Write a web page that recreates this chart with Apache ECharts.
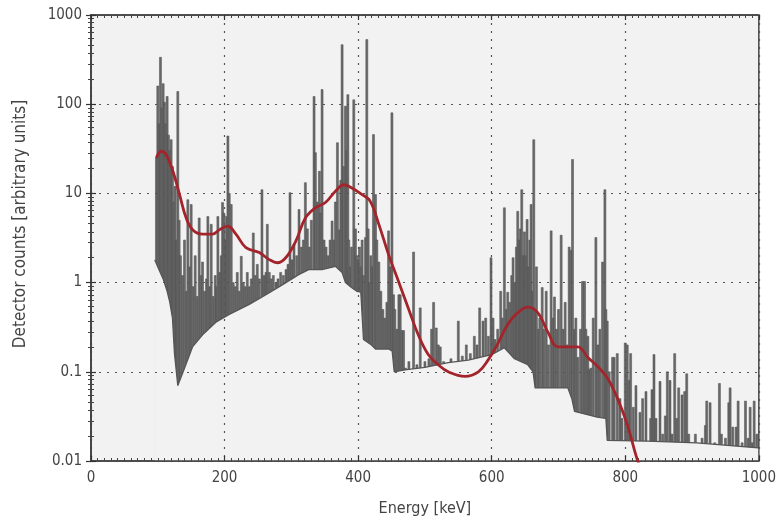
<!DOCTYPE html>
<html>
<head>
<meta charset="utf-8">
<script src="https://cdn.jsdelivr.net/npm/echarts@6/dist/echarts.min.js"></script>
<style>
html, body { margin: 0; padding: 0; background: #fff; }
#main { width: 779px; height: 523px; }
</style>
</head>
<body>
<div id="main"></div>
<script>
// gamma lines [energy keV, counts]
var spikes = [
    [98,25],[100,160],[102,60],[104,336],[106,90],[108,170],[110,105],[112,60],[114,122],[116,45],
    [118,30],[120,40],[122,20],[124,8],[126,12],[128,3],[130,139],[132,5],[134,2],
    [137,1.2],[140,3],[143,0.8],[145,8.5],[148,1.5],[150,7.5],[153,0.9],[156,2],[159,0.7],[162,5.3],
    [165,1.2],[167,1.7],[170,0.8],[173,1.1],[175,5.5],[178,0.9],[180,4.5],[183,0.7],[186,1.2],[188,0.9],
    [190,5.5],[193,1.3],[195,2],[197,7.9],[199,6],[201,3],[203,5.5],[205,44],[207,10],[210,7.5],
    [213,1],[216,0.9],[219,1.3],[222,0.8],[225,1.97],[228,1],[231,0.9],[234,1.3],[237,0.9],
    [240,1.1],[243,3.6],[246,1.2],[249,1.6],[252,1.1],[256,11],[259,1.2],[262,1.3],[264,4.5],[267,1.3],
    [270,1.1],[273,1.2],[277,1],[280,1.1],[284,1.3],[288,1.2],[292,1.4],[295,1.6],[298,10.2],[301,1.8],
    [304,2.7],[308,2],[311.5,6.6],[315,2.5],[318,3],[321,13.2],[324,4],[327,2.5],[330,5],[334,122],
    [336,28.6],[339,8],[342,17.7],[344,6],[346,146],[349,3],[352,2.5],[355,2],[358,3],[361,4.9],
    [364,3],[366,8],[369,37],[372,3.9],[374,14],[376,465],[378,20],[381,95],[383,30],[384.6,128],
    [386,3],[388,1.5],[390,2.5],[393.5,112],[396,4],[398,2],[400,1.8],[402,2.5],[404,1.5],[406,3],
    [408,1.2],[411,3.2],[413,530],[415,4],[417,1],[419,2],[421,1.5],[423,45.6],[426,9.7],[428,3],
    [431,1.7],[434,0.8],[437,0.5],[440,0.4],[443,0.6],[445.6,3.8],[448,1.5],[450.6,80],[453,0.73],[455,0.5],
    [458,0.3],[461,0.73],[463,0.73],[466,0.29],[468,0.29],[471,0.11],[476,0.13],[483,2.2],[488,0.12],[493,0.52],
    [500,0.13],[506,0.14],[510,0.3],[513,0.6],[517,0.31],[520,0.2],[523,0.19],[528,0.13],
    [539,0.14],[550,0.37],[556,0.15],[562,0.2],[568,0.16],[574,0.25],[578,0.2],[582,0.52],[587,0.37],[591,0.4],
    [595,0.25],[599,1.9],[602,0.4],[605,0.23],[609,0.3],[613.5,0.8],[616,0.4],[619,6.9],[622,0.5],[624,0.78],
    [627,0.6],[630,1.2],[632,1.9],[635,1],[637,2.5],[639,6.3],[641,3],[643,4],[645,11],[647,2],
    [649,3.7],[651,2],[653,5.1],[655,1.5],[657,3],[659,7.5],[661,0.8],[663,40],[665,0.5],[667,1.5],
    [670,0.3],[672,0.4],[675.6,0.88],[678,0.3],[681.6,0.8],[685,0.2],
    [689,3.8],[692,0.4],[694,0.69],[697,0.3],[700,0.5],[704,3.4],[707,0.3],[710,0.6],[713,0.2],[716,2.5],
    [719,2.3],[721,24],[724,0.3],[726,0.4],[729,0.145],[733,0.3],[736,1.03],[739,1.03],[741,0.3],[744,0.25],
    [746,0.106],[748.6,0.11],[752,0.4],[756,3.2],[759,0.2],[762,0.3],[766,1.7],[769.5,11],[771,0.5],[773,0.37],
    [776,0.1],[781,0.145],[783.4,0.145],[788,0.16],[792,0.05],[795,0.03],[800,0.21],[803,0.2],[806,0.08],[808,0.16],
    [812,0.04],[816,0.07],[822,0.035],[826,0.05],[831,0.06],
    [838,0.03],[840,0.063],[843,0.156],[846,0.03],[852,0.078],[856,0.02],[860,0.032],[863,0.1],[867,0.08],[870,0.02],
    [874,0.16],[877,0.03],[880,0.066],[885,0.055],[889,0.06],[892,0.095],[895,0.02],[905,0.02],[915,0.018],[920,0.025],
    [922,0.047],[927,0.045],[934,0.016],[941,0.074],[944,0.02],[950,0.018],[955,0.045],[957,0.066],[961,0.024],[966,0.024],
    [969,0.047],[975,0.016],[980,0.047],[984,0.018],[987,0.04],[990,0.016],[993,0.047],[997,0.02]
];

// lower envelope (continuum)
var continuum = [
    [95.5,1.8],[100,1.5],[108,1.1],[114,0.8],[118,0.6],[122,0.4],[125,0.16],[130,0.07],[138,0.1],[152,0.19],
    [167,0.26],[187,0.36],[207,0.44],[237,0.57],[262,0.73],[287,0.95],[311,1.23],[326,1.4],[346,1.4],[366,1.52],
    [376,1.3],[381,1.0],[390,0.88],[398,0.8],[404,0.78],[408,0.23],[420,0.2],[426,0.18],[446,0.18],[451,0.17],
    [454,0.1],[470,0.105],[500,0.112],[535,0.127],[565,0.135],[600,0.156],[619,0.186],[634,0.14],[654,0.12],[662,0.1],
    [665,0.066],[714,0.066],[720,0.05],[724,0.036],[758,0.031],[771,0.03],[773,0.017],[833,0.0167],[907,0.016],[999,0.014]
];

// smoothed (resolution-folded) spectrum
var smoothed = [
    [97.8,25],[105,29.7],[112.7,27],[122.7,17.7],[132.6,9.7],[142.5,5.3],[152.5,3.9],[167,3.5],[182,3.5],[192,3.9],
    [204.6,4.3],[217,3.5],[232,2.47],[252,2.17],[267,1.81],[279,1.67],[291.6,1.9],[306.5,2.9],[321,5.3],[336,6.9],
    [351,7.9],[366,10.6],[378.6,12.5],[386,12],[406,9.7],[418,8.2],[431,4.5],[445.6,2.06],[460.5,1.03],[475,0.52],
    [490,0.26],[505,0.156],[520,0.12],[535,0.1],[560,0.089],[580,0.1],[595,0.137],[609.5,0.21],[624,0.34],[639,0.46],
    [654,0.53],[669,0.46],[684,0.28],[699,0.19],[714,0.19],[729,0.19],[744,0.145],[758.5,0.115],[773,0.086],[788,0.051],
    [803,0.0256],[815.7,0.0118],[822,0.0085]
];

var yTickLabels = {1000: '1000', 100: '100', 10: '10', 1: '1', 0.1: '0.1', 0.01: '0.01'};

var chart = echarts.init(document.getElementById('main'));
var font = 'DejaVu Sans Condensed';
var plotBg = '#f2f2f2';
var gridDots = { show: true, lineStyle: { color: '#555', type: [2, 6], width: 1.2 } };

// primary axes carry labels and ticks, secondary (top/right) draw the dotted grid above the spectrum
function tickAxis(extra) {
    var base = {
        z: 3,
        axisLine: { show: true, lineStyle: { color: '#444', width: 1.5 } },
        axisTick: { show: true, inside: true, length: 5, lineStyle: { color: '#333', width: 1.2 } },
        minorTick: { show: true, splitNumber: 10, length: 3, lineStyle: { color: '#444', width: 1 } },
        axisLabel: { show: false },
        splitLine: { show: false }
    };
    for (var k in extra) base[k] = extra[k];
    return base;
}

var xMinor = { show: true, splitNumber: 20, length: 3, lineStyle: { color: '#444', width: 1 } };

var option = {
    backgroundColor: '#fff',
    animation: false,
    grid: {
        left: 91, right: 17, top: 15, bottom: 62,
        show: true,
        backgroundColor: plotBg,
        borderColor: '#444',
        borderWidth: 1.5
    },
    xAxis: [tickAxis({
        type: 'value', min: 0, max: 1000, interval: 200,
        name: 'Energy [keV]', nameLocation: 'middle', nameGap: 40,
        nameTextStyle: { fontFamily: font, fontSize: 16, color: '#444' },
        minorTick: xMinor,
        axisLabel: {
            show: true, fontFamily: font, fontSize: 15, color: '#444', margin: 10,
            formatter: function (v) { return String(v); }
        }
    }), tickAxis({
        type: 'value', min: 0, max: 1000, interval: 200, position: 'top',
        minorTick: xMinor,
        splitLine: gridDots
    })],
    yAxis: [tickAxis({
        type: 'log', logBase: 10, min: 0.01, max: 1000,
        name: 'Detector counts [arbitrary units]', nameLocation: 'middle', nameGap: 62,
        nameTextStyle: { fontFamily: font, fontSize: 17, color: '#444', padding: [0, 0, 0, 28] },
        axisLabel: {
            show: true, fontFamily: font, fontSize: 15, color: '#444', margin: 9,
            formatter: function (v) { return yTickLabels[v] || String(v); }
        }
    }), tickAxis({
        type: 'log', logBase: 10, min: 0.01, max: 1000, position: 'right',
        splitLine: gridDots
    })],
    series: [{
        name: 'lines',
        type: 'custom',
        z: 1,
        data: spikes,
        renderItem: function (params, api) {
            var top = api.coord([api.value(0), api.value(1)]);
            var bot = api.coord([api.value(0), 0.01]);
            return {
                type: 'rect',
                shape: { x: top[0] - 1, y: top[1], width: 2, height: bot[1] - top[1] },
                style: { fill: '#6a6a6a', stroke: '#4d4d4d', lineWidth: 0.5 }
            };
        }
    }, {
        name: 'continuum',
        type: 'line',
        z: 2,
        data: continuum,
        symbol: 'none',
        lineStyle: { color: '#555', width: 1.3 },
        areaStyle: { color: plotBg, opacity: 1, origin: 'start' }
    }, {
        name: 'smoothed',
        type: 'line',
        z: 5,
        data: smoothed,
        smooth: 0.4,
        symbol: 'none',
        clip: true,
        lineStyle: { color: '#a3242b', width: 2.8 }
    }]
};
chart.setOption(option);
</script>
</body>
</html>
